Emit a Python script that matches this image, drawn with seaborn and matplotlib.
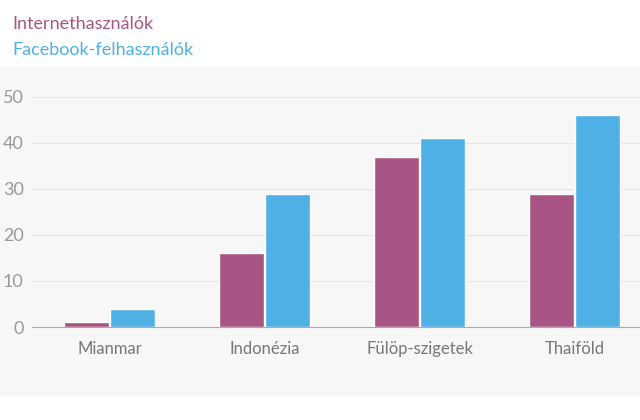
import matplotlib
matplotlib.use("Agg")
import matplotlib.pyplot as plt
import seaborn as sns
import pandas as pd

countries = ["Mianmar", "Indonézia", "Fülöp-szigetek", "Thaiföld"]
internet_users = [1, 16, 37, 29]
facebook_users = [4, 29, 41, 46]
series_names = ["Internethasználók", "Facebook-felhasználók"]
colors = ["#a85585", "#4fb0e5"]

df = pd.DataFrame({
    "country": countries * 2,
    "value": internet_users + facebook_users,
    "series": [series_names[0]] * 4 + [series_names[1]] * 4,
})

sns.set_style("white")
plt.rcParams["font.family"] = ["Lato", "DejaVu Sans"]

fig = plt.figure(figsize=(6.4, 4.2), dpi=100)
# gray band behind the plot
fig.patches.append(plt.Rectangle((0, 0.06), 1, 0.78, transform=fig.transFigure,
                                 color="#f7f7f7", zorder=-10))
ax = fig.add_axes([32 / 640, 1 - 327 / 420, 620 / 640, 260 / 420])
ax.set_facecolor("none")

sns.barplot(data=df, x="country", y="value", hue="series", palette=colors,
            width=0.59, gap=0.03, ax=ax, legend=False, saturation=1)

ax.set_xlim(-0.5, 3.5)
ax.set_ylim(0, 56.5)
ax.set_yticks([0, 10, 20, 30, 40, 50])
ax.yaxis.grid(True, color="#e6e6e6", linewidth=0.8)
ax.set_axisbelow(True)
for s in ["top", "right", "left"]:
    ax.spines[s].set_visible(False)
ax.spines["bottom"].set_color("#aaaaaa")
ax.tick_params(axis="y", length=0, labelsize=13, labelcolor="#999999", pad=6)
ax.tick_params(axis="x", length=0, labelsize=12, labelcolor="#777777", pad=10)
ax.set_xlabel("")
ax.set_ylabel("")

fig.text(12 / 640, 1 - 24 / 420, series_names[0], color=colors[0], fontsize=13, va="center")
fig.text(12 / 640, 1 - 50 / 420, series_names[1], color=colors[1], fontsize=13, va="center")

fig.savefig("out.png", dpi=100)
